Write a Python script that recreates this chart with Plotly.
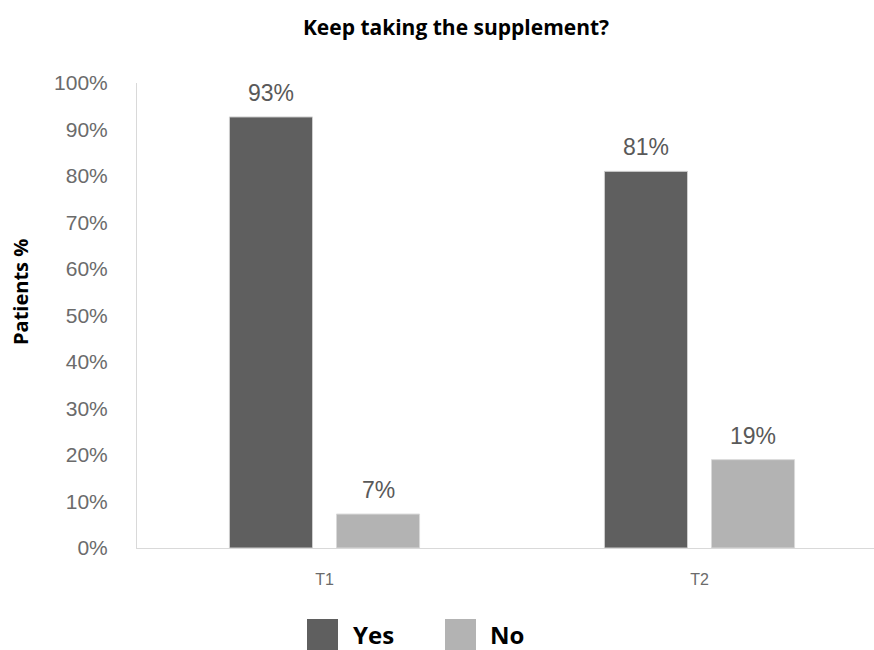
import plotly.graph_objects as go

categories = ["T1", "T2"]
yes_vals = [92.7, 81.0]
no_vals = [7.3, 19.0]
yes_labels = ["93%", "81%"]
no_labels = ["7%", "19%"]
y_ticks = [0, 10, 20, 30, 40, 50, 60, 70, 80, 90, 100]
y_ticktext = [f"{v}%" for v in y_ticks]

YES_C = "#5f5f5f"
NO_C = "#b3b3b3"

fig = go.Figure()
fig.add_trace(go.Bar(x=categories, y=yes_vals, name="Yes", marker=dict(color=YES_C, line=dict(color="#cfcfcf", width=1))))
fig.add_trace(go.Bar(x=categories, y=no_vals, name="No", marker=dict(color=NO_C, line=dict(color="#d9d9d9", width=1))))

LABEL_FONT = dict(family="Liberation Sans, Arial", size=23, color="#595959")
for cat, v, t in zip(categories, yes_vals, yes_labels):
    fig.add_annotation(x=cat, y=v, text=t, showarrow=False, xshift=-53.5, yshift=9,
                       yanchor="bottom", font=LABEL_FONT)
for cat, v, t in zip(categories, no_vals, no_labels):
    fig.add_annotation(x=cat, y=v, text=t, showarrow=False, xshift=53.5, yshift=9,
                       yanchor="bottom", font=LABEL_FONT)

# layout helpers (pixel -> paper)
L, T, W, H = 137, 83, 737, 465
def px(x): return (x - L) / W
def py(y): return (T + H - y) / H

# manual legend with large swatches
legend_items = [("Yes", YES_C, 307, 351), ("No", NO_C, 445, 488)]
for name, col, sx, tx in legend_items:
    fig.add_shape(type="rect", xref="paper", yref="paper", x0=px(sx), x1=px(sx + 31),
                  y0=py(652), y1=py(619), fillcolor=col, line=dict(width=0))
    fig.add_annotation(xref="paper", yref="paper", x=px(tx), y=py(634), text=f"<b>{name}</b>",
                       showarrow=False, xanchor="left", yanchor="middle",
                       font=dict(family="Open Sans", size=24, color="#000000"))

# y-axis title
fig.add_annotation(xref="paper", yref="paper", x=px(20), y=py(292), text="<b>Patients %</b>",
                   textangle=-90, showarrow=False, xanchor="center", yanchor="middle",
                   font=dict(family="Open Sans", size=20, color="#000000"))

fig.update_layout(
    width=874, height=650,
    margin=dict(l=L, r=0, t=T, b=650 - T - H),
    plot_bgcolor="white", paper_bgcolor="white",
    barmode="group", bargap=0.429, bargroupgap=0.224,
    showlegend=False,
    title=dict(text="<b>Keep taking the supplement?</b>", x=456 / 874, xref="container", xanchor="center",
               y=1 - 28 / 650, yref="container", yanchor="middle",
               font=dict(family="Open Sans", size=21, color="#000000")),
)

fig.update_xaxes(range=[-0.5, -0.5 + W / 375], showline=True, linecolor="#d9d9d9", linewidth=1,
                 showgrid=False, ticks="", ticklabelstandoff=17,
                 tickfont=dict(family="Liberation Sans, Arial", size=16, color="#6b6b6b"))
fig.update_yaxes(range=[0, 100], tickvals=y_ticks, ticktext=y_ticktext, showline=True,
                 linecolor="#d9d9d9", linewidth=1, showgrid=False, zeroline=False, ticks="",
                 ticklabelstandoff=24,
                 tickfont=dict(family="Liberation Sans, Arial", size=21, color="#6b6b6b"))

fig.write_html("out.html")
